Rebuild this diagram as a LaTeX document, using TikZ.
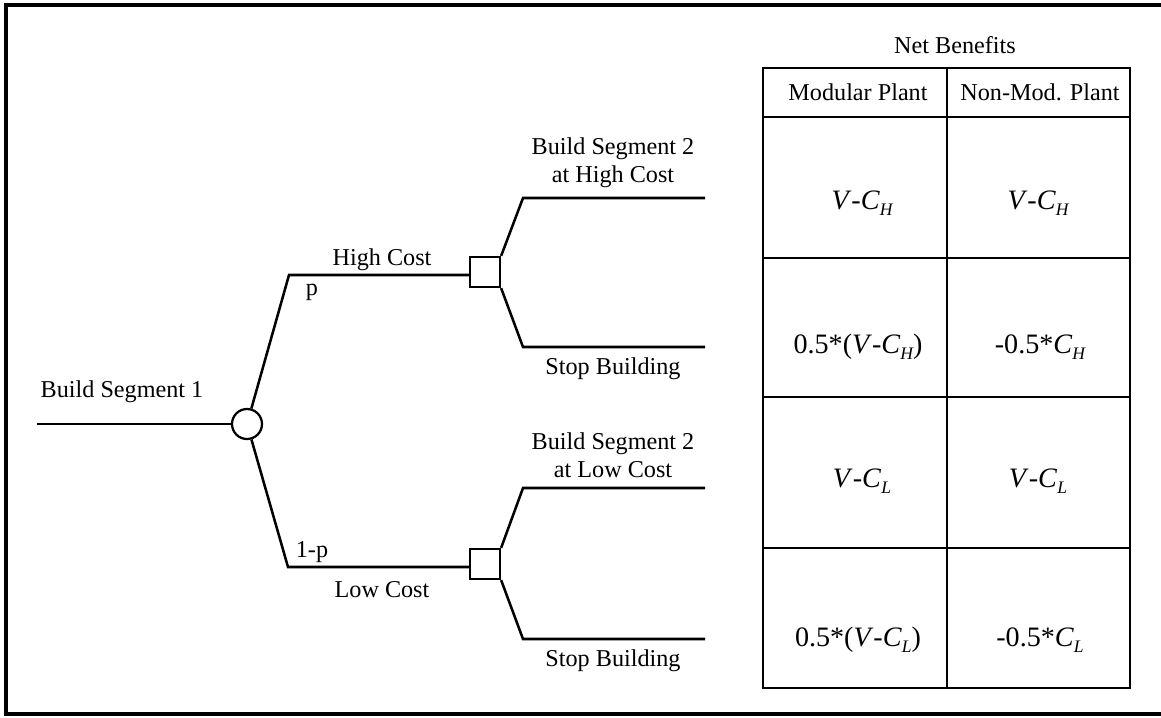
\documentclass[tikz,border=0pt]{standalone}
\usepackage{fontspec}
\setmainfont{Liberation Serif}
\newcommand{\mysub}[1]{\raisebox{-0.5ex}{\fontsize{12.5}{13}\selectfont\itshape #1}}
\begin{document}
\begin{tikzpicture}[x={(0.025cm,0)},y={(0,-0.025cm)},
  every node/.style={font=\fontsize{17.2}{20}\selectfont, inner sep=0pt},
  line/.style={line width=1.8pt, line join=miter},
  frameline/.style={line width=2.2pt},
  tabline/.style={line width=1.8pt},
  cell/.style={font=\fontsize{20}{22}\selectfont},
  chance/.style={circle, draw, line width=1.6pt, minimum size=0.75cm, inner sep=0pt},
  decision/.style={rectangle, draw, line width=1.6pt, minimum size=0.75cm, inner sep=0pt},
  lbl/.style={align=center}]
\useasboundingbox (0,0) rectangle (1161,717);
% outer frame
\draw[frameline] (1161,5) -- (6,5) -- (6,714) -- (1161,714);

% tree nodes
\node[chance] (c) at (247,424) {};
\node[decision] (s1) at (485,272) {};
\node[decision] (s2) at (485,564) {};
\coordinate (start) at (37,424);
\coordinate (k1) at (289,275);
\coordinate (k2) at (288,567);
\coordinate (a1) at (523,198);
\coordinate (a1e) at (705,198);
\coordinate (b1) at (523,347);
\coordinate (b1e) at (705,347);
\coordinate (a2) at (523,488);
\coordinate (a2e) at (705,488);
\coordinate (b2) at (523,639);
\coordinate (b2e) at (705,639);

\draw[line] (start) -- (c.west);
\draw[line] (c) -- (k1) -- (k1 -| s1.west);
\draw[line] (c) -- (k2) -- (k2 -| s2.west);
\draw[line] (s1.north east) -- (a1) -- (a1e);
\draw[line] (s1.south east) -- (b1) -- (b1e);
\draw[line] (s2.north east) -- (a2) -- (a2e);
\draw[line] (s2.south east) -- (b2) -- (b2e);

% tree labels
\node (t0) at (122,392) {Build Segment 1};
\node (thc) at (382,260) {High Cost};
\node (tp) at (312,292) {p};
\node (t1p) at (312,552) {1-p};
\node (tlc) at (382,590) {Low Cost};
\node[lbl] (tb2h) at (613,163) {Build Segment 2\\at High Cost};
\node (tsh) at (613,369) {Stop Building};
\node[lbl] (tb2l) at (613,455) {Build Segment 2\\at Low Cost};
\node (tsl) at (613,661) {Stop Building};

% table
\node (nb) at (955,45) {Net Benefits};
\draw[tabline] (763,68) rectangle (1130,688);
\draw[tabline] (947,68) -- (947,688);
\foreach \yy in {117,258,397,548} \draw[tabline] (763,\yy) -- (1130,\yy);
\node (hm) at (858,92) {Modular Plant};
\node (hn) at (1040,92) {Non-Mod. Plant};

\node[cell] (m1) at (862,203) {\textit{V}-\textit{C}\mysub{H}};
\node[cell] (n1) at (1038,203) {\textit{V}-\textit{C}\mysub{H}};
\node[cell] (m2) at (858,347) {0.5*(\textit{V}-\textit{C}\mysub{H})};
\node[cell] (n2) at (1040,347) {-0.5*\textit{C}\mysub{H}};
\node[cell] (m3) at (862,481) {\textit{V}-\textit{C}\mysub{L}};
\node[cell] (n3) at (1038,481) {\textit{V}-\textit{C}\mysub{L}};
\node[cell] (m4) at (858,640) {0.5*(\textit{V}-\textit{C}\mysub{L})};
\node[cell] (n4) at (1040,640) {-0.5*\textit{C}\mysub{L}};
\end{tikzpicture}
\end{document}
